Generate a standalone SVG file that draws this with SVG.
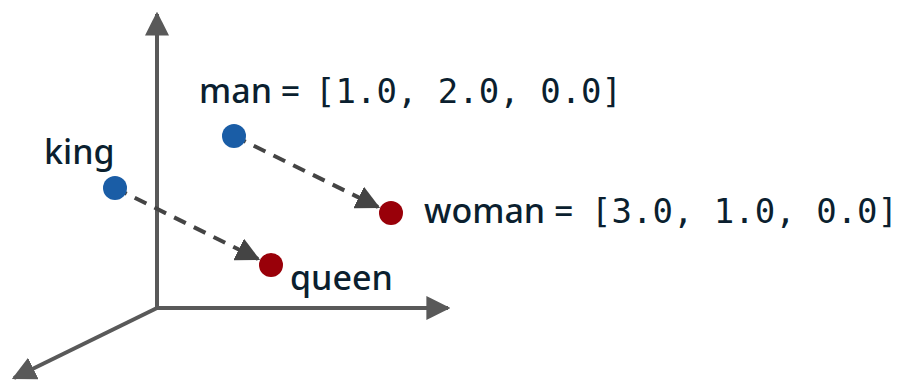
<svg xmlns="http://www.w3.org/2000/svg" width="900" height="382" viewBox="0 0 900 382">
  <style>
    .axis { stroke: #595959; stroke-width: 4; fill: none; }
    .move { stroke: #444444; stroke-width: 4; fill: none; stroke-dasharray: 13 9; }
    .label { font-family: "Noto Sans", "Open Sans", sans-serif; font-size: 34px; font-weight: 500; fill: #0b1f2f; }
    .mono { font-family: "DejaVu Sans Mono", "Liberation Mono", monospace; font-size: 34px; font-weight: normal; }
    .male { fill: #1a5da6; }
    .female { fill: #990009; }
  </style>
  <defs>
    <marker id="axisHead" viewBox="0 0 10 10" refX="9" refY="5" markerWidth="6" markerHeight="6" markerUnits="strokeWidth" orient="auto">
      <path d="M0,0 L10,5 L0,10 z" fill="#595959"/>
    </marker>
    <marker id="moveHead" viewBox="0 0 10 10" refX="9" refY="5" markerWidth="6" markerHeight="6" markerUnits="strokeWidth" orient="auto">
      <path d="M0,0 L10,5 L0,10 z" fill="#444444"/>
    </marker>
  </defs>

  <!-- coordinate axes -->
  <g id="axes">
    <line class="axis" x1="157" y1="308" x2="157" y2="14" marker-end="url(#axisHead)"/>
    <line class="axis" x1="157" y1="308" x2="448" y2="308" marker-end="url(#axisHead)"/>
    <line class="axis" x1="157" y1="308" x2="14" y2="378" marker-end="url(#axisHead)"/>
  </g>

  <!-- offset vectors -->
  <g id="connectors">
    <line class="move" x1="115" y1="188" x2="258" y2="259" marker-end="url(#moveHead)"/>
    <line class="move" x1="234" y1="136" x2="378" y2="207" marker-end="url(#moveHead)"/>
  </g>

  <g id="king">
    <circle class="male" cx="115" cy="188" r="12"/>
    <text class="label" x="44" y="164">king</text>
  </g>
  <g id="man">
    <circle class="male" cx="234" cy="136" r="12"/>
    <text class="label" x="199" y="103">man =<tspan class="mono" x="315">[1.0, 2.0, 0.0]</tspan></text>
  </g>
  <g id="woman">
    <circle class="female" cx="391" cy="213" r="12"/>
    <text class="label" x="424" y="223">woman =<tspan class="mono" x="591">[3.0, 1.0, 0.0]</tspan></text>
  </g>
  <g id="queen">
    <circle class="female" cx="271" cy="265" r="12"/>
    <text class="label" x="290" y="290">queen</text>
  </g>
</svg>
